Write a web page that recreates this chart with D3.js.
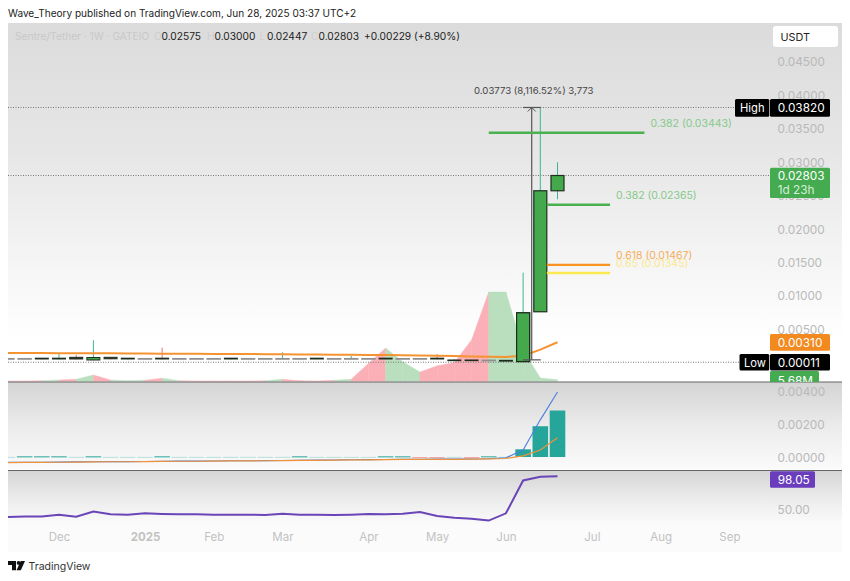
<!DOCTYPE html>
<html><head><meta charset="utf-8">
<script src="https://cdn.jsdelivr.net/npm/d3@7"></script>
<style>
html,body{margin:0;padding:0;background:#fff}
svg{display:block}
text{font-family:"Inter","Liberation Sans",sans-serif}
.axis path,.axis line{display:none}
</style></head><body><div id="c"></div>
<script>
const weeks=["2024-11-11","2024-11-18","2024-11-25","2024-12-02","2024-12-09","2024-12-16","2024-12-23","2024-12-30","2025-01-06","2025-01-13","2025-01-20","2025-01-27","2025-02-03","2025-02-10","2025-02-17","2025-02-24","2025-03-03","2025-03-10","2025-03-17","2025-03-24","2025-03-31","2025-04-07","2025-04-14","2025-04-21","2025-04-28","2025-05-05","2025-05-12","2025-05-19","2025-05-26","2025-06-02","2025-06-09","2025-06-16","2025-06-23"];
const opens =[.00064,.00064,.00072,.00060,.00085,.00045,.00085,.00072,.00064,.00072,.00064,.00064,.00064,.00072,.00064,.00064,.00064,.00064,.00072,.00064,.00064,.00064,.00072,.00064,.00064,.00072,.00045,.00045,.00040,.00040,.00022,.00766,.02575];
const closes=[.00064,.00064,.00060,.00072,.00060,.00082,.00063,.00060,.00064,.00060,.00064,.00064,.00064,.00060,.00064,.00064,.00064,.00064,.00060,.00064,.00064,.00064,.00060,.00064,.00064,.00060,.00035,.00035,.00040,.00028,.00750,.02575,.02803];
const highs =[.00070,.00070,.00075,.00150,.00120,.00340,.00090,.00075,.00075,.00230,.00070,.00070,.00070,.00075,.00070,.00070,.00160,.00070,.00075,.00070,.00110,.00070,.00075,.00070,.00070,.00130,.00060,.00050,.00050,.00045,.01350,.03820,.03000];
const lows  =[.00060,.00060,.00055,.00055,.00055,.00040,.00055,.00055,.00055,.00055,.00060,.00060,.00060,.00055,.00060,.00060,.00060,.00060,.00055,.00060,.00060,.00060,.00055,.00060,.00060,.00055,.00030,.00030,.00035,.00025,.00020,.00766,.02447];
const volume=[1,1,2,5,8,24,5,2,4,12,2,1,1,1,1,2,8,2,1,4,8,68,126,74,35,59,71,157,339,339,119,13,5.68];
const volumeUp=[0,0,1,0,1,0,1,1,0,1,0,0,0,0,0,1,0,0,0,1,0,0,1,1,0,0,0,0,1,1,1,1];
const maLine=[.00150,.00149,.00148,.00147,.00146,.00145,.00144,.00143,.00142,.00140,.00139,.00138,.00136,.00135,.00134,.00132,.00130,.00128,.00127,.00125,.00123,.00120,.00118,.00115,.00112,.00108,.00103,.00098,.00094,.00090,.00110,.00200,.00310];
const macdHist=[.00001,.00004,.00004,.00004,.00001,.00004,.00001,.00001,.00001,.00004,.00001,.00001,.00001,.00001,.00001,.00001,.00001,.00004,.00001,.00001,.00001,.00001,.00004,.00004,-.00001,-.00001,.00001,-.00004,.00004,.00001,.00047,.00188,.00284];
const macdLine=[-.00030,-.00029,-.00029,-.00028,-.00027,-.00026,-.00025,-.00025,-.00024,-.00023,-.00022,-.00022,-.00021,-.00020,-.00020,-.00019,-.00018,-.00017,-.00016,-.00015,-.00014,-.00013,-.00012,-.00011,-.00011,-.00010,-.00010,-.00009,-.00008,-.00002,.00046,.00230,.00400];
const macdSignal=[-.00031,-.00030,-.00030,-.00029,-.00028,-.00027,-.00026,-.00026,-.00025,-.00024,-.00023,-.00023,-.00022,-.00021,-.00021,-.00020,-.00019,-.00018,-.00017,-.00016,-.00015,-.00014,-.00013,-.00012,-.00012,-.00011,-.00011,-.00010,-.00009,-.00006,.00010,.00046,.00120];
const rsi=[39,40,40,42.5,39.5,47,43,42.5,44.5,43.5,43,43,42.5,42.5,42.5,42,44,42.5,42.5,42,42.5,43.5,43,44,46.5,40.5,38,36.5,34,44.5,92,97.5,98.05];
const priceTicks=[.045,.04,.035,.03,.025,.02,.015,.01,.005];
const macdTicks=[.004,.002,0];
const rsiTicks=[50];
const timeTicks=["2024-12-02","2025-01-06","2025-02-03","2025-03-03","2025-04-07","2025-05-05","2025-06-02","2025-07-07","2025-08-04","2025-09-01"];
const timeLabels=["Dec","2025","Feb","Mar","Apr","May","Jun","Jul","Aug","Sep"];
const fibs=[
 {label:"0.382 (0.03443)",price:.03443,from:"2025-05-26",to:"2025-07-28",kind:"g"},
 {label:"0.382 (0.02365)",price:.02365,from:"2025-06-16",to:"2025-07-14",kind:"g"},
 {label:"0.65 (0.01345)",price:.01345,from:"2025-06-16",to:"2025-07-14",kind:"y"},
 {label:"0.618 (0.01467)",price:.01467,from:"2025-06-16",to:"2025-07-14",kind:"o"}];
const ohlc=[["O","0.02575"],["H","0.03000"],["L","0.02447"],["C","0.02803"]];

const W=850,H=581,pL=8,pR=842,axX=770,tagFs=11.8;
const svg=d3.select("#c").append("svg").attr("width",W).attr("height",H);
const defs=svg.append("defs");
function grad(id,stops){const g=defs.append("linearGradient").attr("id",id).attr("x1",0).attr("x2",0).attr("y1",0).attr("y2",1);
 stops.forEach(s=>g.append("stop").attr("offset",s[0]).attr("stop-color",s[1]));}
grad("gm",[[0,"#dbdbdb"],[.35,"#e6e6e6"],[.65,"#f4f4f4"],[.88,"#ffffff"],[1,"#ffffff"]]);
grad("gd",[[0,"#d4d4d4"],[.5,"#ebebeb"],[1,"#fbfbfb"]]);
const clip=(id,y0,y1)=>defs.append("clipPath").attr("id",id).append("rect").attr("x",pL).attr("y",y0).attr("width",pR-pL).attr("height",y1-y0);
clip("cm",23,382);clip("cd",382,470);clip("cr",471,525);

const bg=svg.append("g");
bg.append("rect").attr("x",pL).attr("y",23).attr("width",pR-pL).attr("height",359).attr("fill","url(#gm)");
bg.append("rect").attr("x",pL).attr("y",382).attr("width",pR-pL).attr("height",88).attr("fill","url(#gd)");
bg.append("rect").attr("x",pL).attr("y",470).attr("width",pR-pL).attr("height",55).attr("fill","url(#gd)");
bg.append("rect").attr("x",pL).attr("y",525).attr("width",pR-pL).attr("height",27).attr("fill","#fbfbfb");

const D=s=>new Date(s+"T00:00:00Z");
const x=d3.scaleUtc().domain([D("2024-12-02"),D("2025-06-23")]).range([59,557.5]);
const y=d3.scaleLinear().domain([0,.045]).range([363,62]);
const yV=d3.scaleLinear().domain([0,339]).range([381.3,292]);
const yM=d3.scaleLinear().domain([0,.004]).range([457.5,392]);
const yR=d3.scaleLinear().domain([50,98.05]).range([509.5,476.3]);
const ticksStyle=(g,fs)=>g.attr("class","axis").selectAll("text").attr("fill","#b9b9b9").style("font-size",fs+"px");

// Volume area
const main=svg.append("g").attr("clip-path","url(#cm)");
const area=d3.area().x(d=>x(D(d.w))).y0(yV(0)).y1(d=>yV(d.v));
volumeUp.forEach((u,i)=>{
 const c=u?"#b9dfbe":"#fbb0b8";
 main.append("path").datum([{w:weeks[i],v:volume[i]},{w:weeks[i+1],v:volume[i+1]}]).attr("d",area).attr("fill",c).attr("stroke",c).attr("stroke-width",.4);
});

// dotted levels
const dotted=[[.0382,735],[.02803,770],[.00011,739]];
main.selectAll(".lv").data(dotted).join("line").attr("x1",pL).attr("x2",d=>d[1]).attr("y1",d=>y(d[0])).attr("y2",d=>y(d[0]))
 .attr("stroke","#777").attr("stroke-width",1).attr("stroke-dasharray","1 1.5");

// candles
const idx=d3.range(weeks.length);
const tall=i=>Math.abs(y(opens[i])-y(closes[i]))>5;
main.selectAll(".w").data(idx).join("line").attr("x1",i=>x(D(weeks[i]))).attr("x2",i=>x(D(weeks[i])))
 .attr("y1",i=>y(highs[i])).attr("y2",i=>y(lows[i]))
 .attr("stroke",i=>closes[i]>=opens[i]?"#3fb495":"#ef6f7c").attr("stroke-width",1);
const drawBody=sel=>sel
 .attr("x",i=>x(D(weeks[i]))-6.5).attr("width",13)
 .attr("y",i=>y(Math.max(opens[i],closes[i])))
 .attr("height",i=>Math.max(.3,Math.abs(y(opens[i])-y(closes[i]))))
 .attr("fill",i=>closes[i]>=opens[i]?"#44a94c":"#333")
 .attr("stroke",i=>opens[i]===closes[i]?"#8f8f8f":"#1e2e1d")
 .attr("stroke-width",i=>opens[i]===closes[i]?1.5:tall(i)?1.2:1);
main.selectAll(".b").data(idx).join("rect").call(drawBody);

// MA line
main.append("path").datum(idx).attr("fill","none").attr("stroke","#f59331").attr("stroke-width",2)
 .attr("d",d3.line().x(i=>x(D(weeks[i]))).y(i=>y(maLine[i])));
// breakout candle sits over the MA
main.selectAll(".b2").data(idx.slice(30,31)).join("rect").call(drawBody);

// Measure tool
const mTop=.0382,mBot=.00047,mx0=D("2025-06-09"),mx1=D("2025-06-16"),mx=(x(mx0)+x(mx1))/2;
const meas=svg.append("g").attr("stroke","#555").attr("fill","none");
meas.append("line").attr("x1",mx).attr("x2",mx).attr("y1",y(mTop)).attr("y2",y(mBot)).attr("stroke-width",1.2);
[mTop,mBot].forEach(p=>meas.append("line").attr("x1",x(mx0)).attr("x2",x(mx1)+.5).attr("y1",y(p)).attr("y2",y(p)).attr("stroke-width",1.2));
meas.append("path").attr("d",`M${mx-4} ${y(mTop)+4}L${mx} ${y(mTop)}L${mx+4} ${y(mTop)+4}`).attr("stroke-width",1);
svg.append("text").attr("x",474).attr("y",94).attr("font-size",9.6).attr("fill","#444").text("0.03773 (8,116.52%) 3,773");

// Fib lines
const fc={g:"#4caf50",o:"#f7931e",y:"#fce94f"},tc={g:"#86c98a",o:"#f3ad5c",y:"#fbe88f"};
const fg=svg.append("g");
fibs.forEach(f=>{
 const big=f.kind==="g"&&f.price>.03;
 fg.append("line").attr("x1",x(D(f.from))+(big?0:6.5)).attr("x2",x(D(f.to))+1).attr("y1",y(f.price)).attr("y2",y(f.price)).attr("stroke",fc[f.kind]).attr("stroke-width",2.4);
});
fibs.forEach(f=>{
 fg.append("text").attr("x",x(D(f.to))+7).attr("y",y(f.price)-6).attr("font-size",10.5).attr("fill",tc[f.kind]).text(f.label);
});

// MACD
const mg=svg.append("g").attr("clip-path","url(#cd)");
mg.selectAll("rect").data(idx).join("rect")
 .attr("x",i=>x(D(weeks[i]))-7.8).attr("width",15.6)
 .attr("y",i=>Math.min(yM(0),yM(macdHist[i]))-.5)
 .attr("height",i=>Math.max(1,Math.abs(yM(macdHist[i])-yM(0))))
 .attr("fill",i=>macdHist[i]<0?"#f4a6a6":macdHist[i]>=.00004?"#26a69a":"#b6dfda");
const ml=arr=>d3.line().x(i=>x(D(weeks[i]))).y(i=>yM(arr[i]));
mg.append("path").datum(idx).attr("d",ml(macdLine)).attr("fill","none").attr("stroke","#4a7fe0").attr("stroke-width",1.1);
mg.append("path").datum(idx).attr("d",ml(macdSignal)).attr("fill","none").attr("stroke","#f0923a").attr("stroke-width",1.2);

// RSI
const rg=svg.append("g").attr("clip-path","url(#cr)");
rg.append("path").datum(idx).attr("fill","none").attr("stroke","#6a45b8").attr("stroke-width",2)
 .attr("d",d3.line().x(i=>x(D(weeks[i]))).y(i=>yR(rsi[i])));

// Axes
const fmt=d3.format(".5f");
svg.append("g").attr("transform",`translate(${axX},0)`).call(d3.axisRight(y).tickValues(priceTicks).tickSize(0).tickPadding(7.5).tickFormat(fmt)).call(ticksStyle,tagFs);
svg.append("g").attr("transform",`translate(${axX},0)`).call(d3.axisRight(yM).tickValues(macdTicks).tickSize(0).tickPadding(7.5).tickFormat(fmt)).call(ticksStyle,tagFs);
svg.append("g").attr("transform",`translate(${axX},0)`).call(d3.axisRight(yR).tickValues(rsiTicks).tickSize(0).tickPadding(7.5).tickFormat(d3.format(".2f"))).call(ticksStyle,tagFs);
const tg=svg.append("g").attr("transform","translate(0,528.5)").call(d3.axisBottom(x).tickValues(timeTicks.map(D)).tickSize(0).tickPadding(4).tickFormat((d,i)=>timeLabels[i]));
tg.attr("class","axis").selectAll("text").attr("fill","#c2c2c2").style("font-size","11.5px").style("font-weight",(d,i)=>timeLabels[i]==="2025"?"700":"400");

// Dividers
[382,470.5].forEach(v=>svg.append("line").attr("x1",pL).attr("x2",pR).attr("y1",v).attr("y2",v).attr("stroke","#666").attr("stroke-width",1));

// Tags
function tag(x0,x1,y0,y1,fill,lines,pad){
 svg.append("rect").attr("x",x0).attr("y",y0).attr("width",x1-x0).attr("height",y1-y0).attr("rx",1.5).attr("fill",fill);
 lines.forEach(l=>svg.append("text").attr("x",x0+(pad==null?7.7:pad)).attr("y",l[1]).attr("font-size",l[3]||tagFs).attr("fill",l[2]||"#fff").text(l[0]));
}
tag(735,769.3,99,116.7,"#000",[["High",112.3,"#fff",11.2]],5);
tag(770,830,99,116.7,"#000",[[fmt(.0382),112.3]]);
tag(770,830,167.7,198,"#45ab50",[[fmt(.02803),180],["1d 23h",194,"#d7eed9"]]);
tag(770,830,334,350.7,"#f28a20",[[fmt(.0031),346.8]]);
tag(739.5,769.3,354,370.5,"#000",[["Low",366.7,"#fff",11.2]],4.5);
tag(770,830,354,370.5,"#000",[[fmt(.00011),366.7]]);
svg.append("g").attr("clip-path","url(#cm)").call(g=>{
 g.append("rect").attr("x",770).attr("y",371).attr("width",49).attr("height",16).attr("rx",1.5).attr("fill","#45ab50");
 g.append("text").attr("x",777.7).attr("y",385).attr("font-size",tagFs).attr("fill","#fff").text("5.68M");
});
tag(770,815,471.3,487.8,"#6a3dbd",[[rsi[32].toFixed(2),484]]);

// USDT button
svg.append("rect").attr("x",773).attr("y",26).attr("width",65).attr("height",21).attr("rx",3).attr("fill","#fff");
svg.append("text").attr("x",780.5).attr("y",41).attr("font-size",10.8).attr("fill","#222").text("USDT");

// Header
svg.append("text").attr("x",8).attr("y",17).attr("font-size",10.05).attr("fill","#222").text("Wave_Theory published on TradingView.com, Jun 28, 2025 03:37 UTC+2");
svg.append("text").attr("x",15).attr("y",40).attr("font-size",10.2).attr("fill","#c8c8c8").text("Sentre/Tether · 1W · GATEIO");
const ohlcX=[154,207,259.5,311];
ohlc.forEach((o,i)=>{
 svg.append("text").attr("x",ohlcX[i]).attr("y",40).attr("font-size",10.2).attr("fill","#cfcfcf").text(o[0]);
 svg.append("text").attr("x",ohlcX[i]+7.5).attr("y",40).attr("font-size",10.2).attr("fill","#222").text(o[1]);
});
svg.append("text").attr("x",364).attr("y",40).attr("font-size",10.2).attr("fill","#222").text("+0.00229 (+8.90%)");

// Footer
const lg=svg.append("g").attr("fill","#111");
lg.append("path").attr("d","M8 561h8v9.2h-4v-5.2h-4z");
lg.append("circle").attr("cx",18.6).attr("cy",562.9).attr("r",1.9);
lg.append("path").attr("d","M25 561l-4.2 9.2h-4.3l4.2-9.2z");
svg.append("text").attr("x",28.5).attr("y",570).attr("font-size",10.5).attr("fill","#333").text("TradingView");
</script></body></html>
